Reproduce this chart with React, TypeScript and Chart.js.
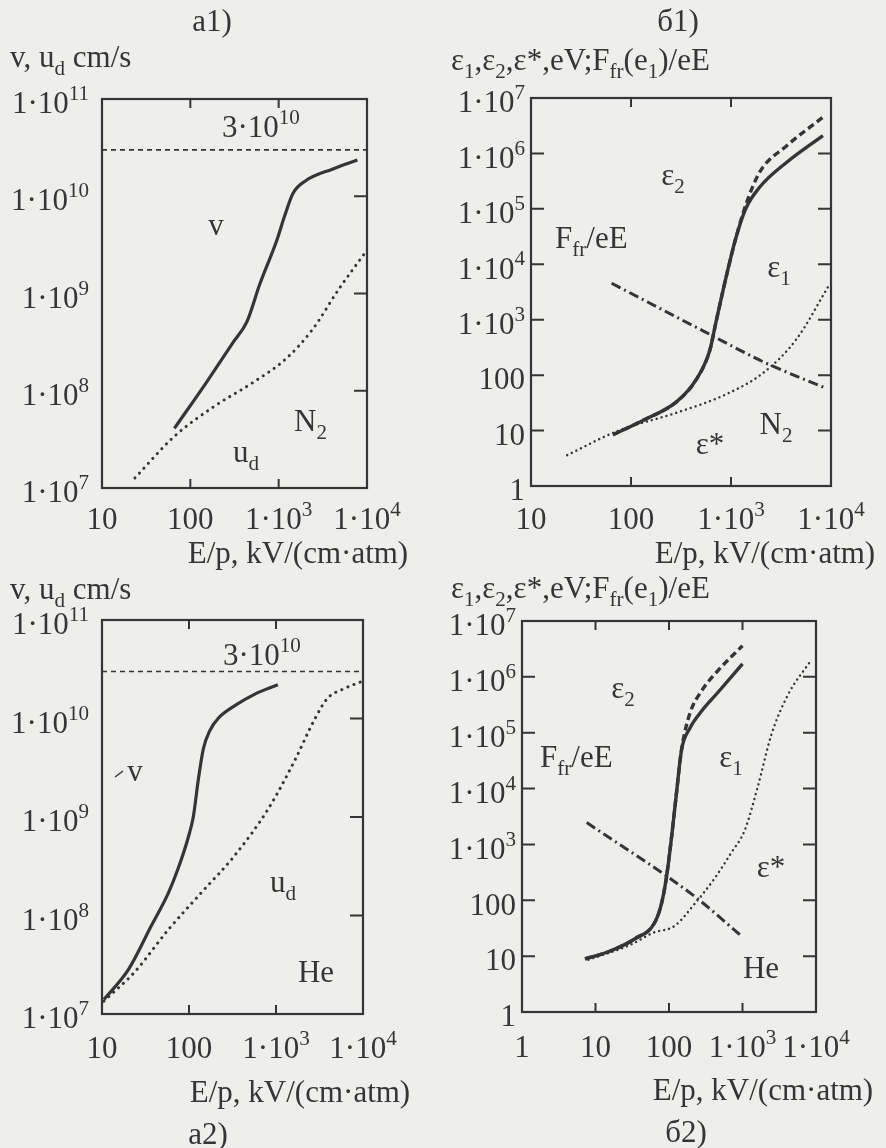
import React, { useEffect, useRef } from "react";
import { Chart, registerables } from "chart.js";
Chart.register(...registerables);

const FONT = "'Liberation Serif', 'Times New Roman', serif";
const INK = "#353535";
const BG = "#eeeeec";
const FS = 31;

// ---------- tick values ----------
const xTicksA = [10, 100, 1000, 10000];
const yTicksA = [1e7, 1e8, 1e9, 1e10, 1e11];
const xTicksB1 = [10, 100, 1000, 10000];
const xTicksB2 = [1, 10, 100, 1000, 10000];
const yTicksB = [1, 10, 100, 1e3, 1e4, 1e5, 1e6, 1e7];

// ---------- a1) N2 ----------
const a1_vX = [66, 155, 309, 436, 612, 944, 1170, 1450, 2040, 4050, 7780];
const a1_vY = [4.1e7, 1.25e8, 3.2e8, 5.1e8, 1.25e9, 3.44e9, 6.3e9, 1.07e10, 1.45e10, 1.9e10, 2.36e10];
const a1_udX = [23.6, 66, 186, 515, 1230, 2430, 4800, 9550];
const a1_udY = [1.27e7, 3.4e7, 6.9e7, 1.22e8, 2.16e8, 4.3e8, 1.11e9, 2.64e9];
const cLightX = [10, 10000];
const cLightY = [3e10, 3e10];

// ---------- б1) N2 ----------
const b1_e1X = [66, 133, 285, 445, 612, 710, 890, 1120, 1410, 1950, 3560, 8300];
const b1_e1Y = [8.4, 15.4, 33, 81, 275, 930, 5700, 30000, 1.02e5, 2.5e5, 6.8e5, 2.1e6];
const b1_e2X = [66, 133, 285, 445, 612, 710, 890, 1120, 1410, 1950, 3560, 8300];
const b1_e2Y = [8.4, 15.4, 33, 81, 275, 930, 5700, 30000, 1.2e5, 4.7e5, 1.35e6, 4.5e6];
const b1_fX = [64, 525, 2100, 8500];
const b1_fY = [4550, 630, 174, 60];
const b1_esX = [23, 72, 285, 890, 2100, 4470, 9600];
const b1_esY = [3.6, 9.7, 21, 45, 110, 435, 4250];

// ---------- a2) He ----------
const a2_vX = [10.5, 20, 37, 58, 75, 98, 112, 128, 146, 173, 216, 336, 565, 1050];
const a2_vY = [1.4e7, 2.8e7, 7.9e7, 1.7e8, 3.0e8, 6.2e8, 1.0e9, 2.4e9, 4.9e9, 7.5e9, 1.0e10, 1.35e10, 1.76e10, 2.2e10];
const a2_udX = [10.5, 24, 58, 138, 330, 810, 1630, 2760, 3900, 6000, 10000];
const a2_udY = [1.35e7, 2.7e7, 7.2e7, 1.7e8, 4.0e8, 1.2e9, 3.7e9, 9.7e9, 1.6e10, 2.0e10, 2.4e10];

// ---------- б2) He ----------
const b2_e1X = [7.2, 15, 34.5, 64, 79, 92, 108, 126, 148, 192, 275, 465, 1000];
const b2_e1Y = [8.9, 12, 20.5, 40, 87, 250, 1300, 8000, 49000, 1.2e5, 2.4e5, 5.3e5, 1.7e6];
const b2_e2X = [7.2, 15, 34.5, 64, 79, 92, 108, 126, 148, 192, 275, 465, 1000];
const b2_e2Y = [8.9, 12, 20.5, 40, 87, 250, 1300, 8000, 49000, 2.2e5, 5.5e5, 1.3e6, 3.6e6];
const b2_fX = [7.6, 224, 960];
const b2_fY = [2470, 117, 23];
const b2_esX = [8, 30, 60, 120, 224, 420, 705, 1070, 1620, 2450, 4130, 8600];
const b2_esY = [8.6, 16, 26, 35, 87, 250, 715, 1780, 11000, 89000, 4.7e5, 2.0e6];

// ---------- rich text ----------
type Seg = { t: string; m: number };
function parseRich(s: string): Seg[] {
  const segs: Seg[] = [];
  let i = 0;
  let buf = "";
  while (i < s.length) {
    const c = s[i];
    if ((c === "_" || c === "^") && s[i + 1] === "{") {
      if (buf) { segs.push({ t: buf, m: 0 }); buf = ""; }
      const end = s.indexOf("}", i);
      segs.push({ t: s.slice(i + 2, end), m: c === "^" ? 1 : -1 });
      i = end + 1;
    } else { buf += c; i++; }
  }
  if (buf) segs.push({ t: buf, m: 0 });
  return segs;
}
function drawRich(ctx: CanvasRenderingContext2D, s: string, x: number, yMid: number, size: number, align: string) {
  const segs = parseRich(s);
  const small = size * 0.68;
  let w = 0;
  const widths = segs.map((sg) => {
    ctx.font = `${sg.m ? small : size}px ${FONT}`;
    const ww = ctx.measureText(sg.t).width;
    w += ww;
    return ww;
  });
  let cx = align === "left" ? x : align === "right" ? x - w : x - w / 2;
  const base = yMid + size * 0.33;
  ctx.textBaseline = "alphabetic";
  ctx.textAlign = "left";
  segs.forEach((sg, i) => {
    ctx.font = `${sg.m ? small : size}px ${FONT}`;
    const dy = sg.m === 1 ? -size * 0.42 : sg.m === -1 ? size * 0.24 : 0;
    ctx.fillText(sg.t, cx, base + dy);
    cx += widths[i];
  });
}
function fmtTick(v: number): string {
  if (v < 1000) return String(v);
  return "1·10^{" + Math.round(Math.log10(v)) + "}";
}

// ---------- panel ----------
type DS = { xs: number[]; ys: number[]; w: number; dash: number[]; cap?: string };
type Txt = { s: string; x: number; y: number; align?: string; size?: number };
type Line = { x1: number; y1: number; x2: number; y2: number };
interface PanelCfg {
  left: number; top: number;
  area: { l: number; t: number; r: number; b: number };
  xMin: number; xMax: number; yMin: number; yMax: number;
  xTicks: number[]; yTicks: number[];
  yTickLeft: boolean;
  yLabelGap: number;
  xLabelY: number;
  datasets: DS[];
  texts: Txt[];
  lines?: Line[];
}
const W = 443, H = 574;

function Panel({ cfg }: { cfg: PanelCfg }) {
  const ref = useRef<HTMLCanvasElement>(null);
  useEffect(() => {
    const a = cfg.area;
    const framePlugin = {
      id: "frame",
      afterDraw(chart: any) {
        const ctx: CanvasRenderingContext2D = chart.ctx;
        const xs = chart.scales.x, ys = chart.scales.y;
        const ca = chart.chartArea;
        ctx.save();
        ctx.strokeStyle = INK;
        ctx.fillStyle = INK;
        ctx.lineWidth = 2.2;
        ctx.setLineDash([]);
        ctx.strokeRect(ca.left, ca.top, ca.right - ca.left, ca.bottom - ca.top);
        ctx.lineWidth = 2;
        cfg.yTicks.forEach((v) => {
          const p = ys.getPixelForValue(v);
          if (v !== cfg.yMin && v !== cfg.yMax) {
            ctx.beginPath();
            ctx.moveTo(ca.right, p); ctx.lineTo(ca.right - 13, p);
            if (cfg.yTickLeft) { ctx.moveTo(ca.left, p); ctx.lineTo(ca.left + 13, p); }
            ctx.stroke();
          }
          drawRich(ctx, fmtTick(v), ca.left - cfg.yLabelGap, p + 4, FS, "right");
        });
        cfg.xTicks.forEach((v) => {
          const p = xs.getPixelForValue(v);
          if (v !== cfg.xMin && v !== cfg.xMax) {
            ctx.beginPath();
            ctx.moveTo(p, ca.top); ctx.lineTo(p, ca.top + 9);
            ctx.moveTo(p, ca.bottom); ctx.lineTo(p, ca.bottom - 9);
            ctx.stroke();
          }
          drawRich(ctx, fmtTick(v), p, cfg.xLabelY, FS, "center");
        });
        cfg.texts.forEach((t) => drawRich(ctx, t.s, t.x, t.y, t.size || FS, t.align || "left"));
        (cfg.lines || []).forEach((l) => {
          ctx.lineWidth = 1.5;
          ctx.beginPath(); ctx.moveTo(l.x1, l.y1); ctx.lineTo(l.x2, l.y2); ctx.stroke();
        });
        ctx.restore();
      },
    };
    const chart = new Chart(ref.current as HTMLCanvasElement, {
      type: "line",
      data: {
        datasets: cfg.datasets.map((d) => ({
          data: d.xs.map((x, i) => ({ x, y: d.ys[i] })),
          borderColor: INK,
          borderWidth: d.w,
          borderDash: d.dash,
          borderCapStyle: (d.cap || "butt") as any,
          pointRadius: 0,
          fill: false,
          cubicInterpolationMode: "monotone" as any,
        })),
      },
      options: {
        animation: false,
        responsive: false,
        maintainAspectRatio: false,
        events: [],
        layout: { padding: { left: a.l, top: a.t, right: W - a.r, bottom: H - a.b } },
        plugins: { legend: { display: false }, tooltip: { enabled: false }, title: { display: false } },
        scales: {
          x: { type: "logarithmic", min: cfg.xMin, max: cfg.xMax, display: false, ticks: { display: false }, grid: { display: false }, border: { display: false } },
          y: { type: "logarithmic", min: cfg.yMin, max: cfg.yMax, display: false, ticks: { display: false }, grid: { display: false }, border: { display: false } },
        },
      } as any,
      plugins: [framePlugin],
    });
    return () => chart.destroy();
  }, [cfg]);
  return (
    <canvas ref={ref} width={W} height={H}
      style={{ position: "absolute", left: cfg.left, top: cfg.top, width: W, height: H }} />
  );
}

const SOLID: number[] = [];
const DOTS = [0.1, 6.5];
const FINE_DOTS = [0.1, 5];
const DASH = [7, 4];
const THIN_DASH = [5, 4];
const DASHDOT = [10, 4, 2, 4];

const panels: PanelCfg[] = [
  {
    left: 0, top: 0,
    area: { l: 102, t: 99, r: 367, b: 488 },
    xMin: 10, xMax: 10000, yMin: 1e7, yMax: 1e11,
    xTicks: xTicksA, yTicks: yTicksA, yTickLeft: false, yLabelGap: 13, xLabelY: 519,
    datasets: [
      { xs: cLightX, ys: cLightY, w: 1.6, dash: THIN_DASH },
      { xs: a1_vX, ys: a1_vY, w: 3.2, dash: SOLID },
      { xs: a1_udX, ys: a1_udY, w: 3, dash: DOTS, cap: "round" },
    ],
    texts: [
      { s: "a1)", x: 212, y: 21, align: "center" },
      { s: "v, u_{d} cm/s", x: 10, y: 57 },
      { s: "3·10^{10}", x: 222, y: 127 },
      { s: "v", x: 216, y: 225, align: "center" },
      { s: "N_{2}", x: 294, y: 421 },
      { s: "u_{d}", x: 233, y: 452 },
      { s: "E/p, kV/(cm·atm)", x: 298, y: 553, align: "center" },
    ],
  },
  {
    left: 443, top: 0,
    area: { l: 88, t: 98, r: 388, b: 486 },
    xMin: 10, xMax: 10000, yMin: 1, yMax: 1e7,
    xTicks: xTicksB1, yTicks: yTicksB, yTickLeft: true, yLabelGap: 6, xLabelY: 519,
    datasets: [
      { xs: b1_e2X, ys: b1_e2Y, w: 3.4, dash: DASH },
      { xs: b1_e1X, ys: b1_e1Y, w: 3.4, dash: SOLID },
      { xs: b1_fX, ys: b1_fY, w: 3, dash: DASHDOT },
      { xs: b1_esX, ys: b1_esY, w: 2.4, dash: FINE_DOTS, cap: "round" },
    ],
    texts: [
      { s: "б1)", x: 235, y: 21, align: "center" },
      { s: "ε_{1},ε_{2},ε*,eV;F_{fr}(e_{1})/eE", x: 8, y: 60 },
      { s: "ε_{2}", x: 230, y: 175, align: "center" },
      { s: "F_{fr}/eE", x: 112, y: 238 },
      { s: "ε_{1}", x: 336, y: 267, align: "center" },
      { s: "N_{2}", x: 333, y: 424, align: "center" },
      { s: "ε*", x: 267, y: 444, align: "center" },
      { s: "E/p, kV/(cm·atm)", x: 322, y: 553, align: "center" },
    ],
  },
  {
    left: 0, top: 574,
    area: { l: 102, t: 46, r: 363, b: 440 },
    xMin: 10, xMax: 10000, yMin: 1e7, yMax: 1e11,
    xTicks: xTicksA, yTicks: yTicksA, yTickLeft: false, yLabelGap: 13, xLabelY: 474,
    datasets: [
      { xs: cLightX, ys: cLightY, w: 1.6, dash: THIN_DASH },
      { xs: a2_vX, ys: a2_vY, w: 3.2, dash: SOLID },
      { xs: a2_udX, ys: a2_udY, w: 3, dash: DOTS, cap: "round" },
    ],
    texts: [
      { s: "v, u_{d} cm/s", x: 10, y: 15 },
      { s: "3·10^{10}", x: 223, y: 81 },
      { s: "v", x: 135, y: 197, align: "center" },
      { s: "u_{d}", x: 270, y: 308 },
      { s: "He", x: 316, y: 398, align: "center" },
      { s: "E/p, kV/(cm·atm)", x: 300, y: 518, align: "center" },
      { s: "a2)", x: 208, y: 560, align: "center" },
    ],
    lines: [{ x1: 115, y1: 203, x2: 123, y2: 197 }],
  },
  {
    left: 443, top: 574,
    area: { l: 79, t: 47, r: 373, b: 438 },
    xMin: 1, xMax: 10000, yMin: 1, yMax: 1e7,
    xTicks: xTicksB2, yTicks: yTicksB, yTickLeft: true, yLabelGap: 6, xLabelY: 473,
    datasets: [
      { xs: b2_e2X, ys: b2_e2Y, w: 3.4, dash: DASH },
      { xs: b2_e1X, ys: b2_e1Y, w: 3.4, dash: SOLID },
      { xs: b2_fX, ys: b2_fY, w: 3, dash: DASHDOT },
      { xs: b2_esX, ys: b2_esY, w: 2.4, dash: FINE_DOTS, cap: "round" },
    ],
    texts: [
      { s: "ε_{1},ε_{2},ε*,eV;F_{fr}(e_{1})/eE", x: 8, y: 14 },
      { s: "ε_{2}", x: 180, y: 114, align: "center" },
      { s: "F_{fr}/eE", x: 97, y: 183 },
      { s: "ε_{1}", x: 288, y: 183, align: "center" },
      { s: "ε*", x: 328, y: 293, align: "center" },
      { s: "He", x: 318, y: 394, align: "center" },
      { s: "E/p, kV/(cm·atm)", x: 320, y: 516, align: "center" },
      { s: "б2)", x: 243, y: 558, align: "center" },
    ],
  },
];

export default function App() {
  return (
    <div style={{ position: "absolute", left: 0, top: 0, width: 886, height: 1148, background: BG, overflow: "hidden" }}>
      {panels.map((p, i) => <Panel key={i} cfg={p} />)}
    </div>
  );
}
